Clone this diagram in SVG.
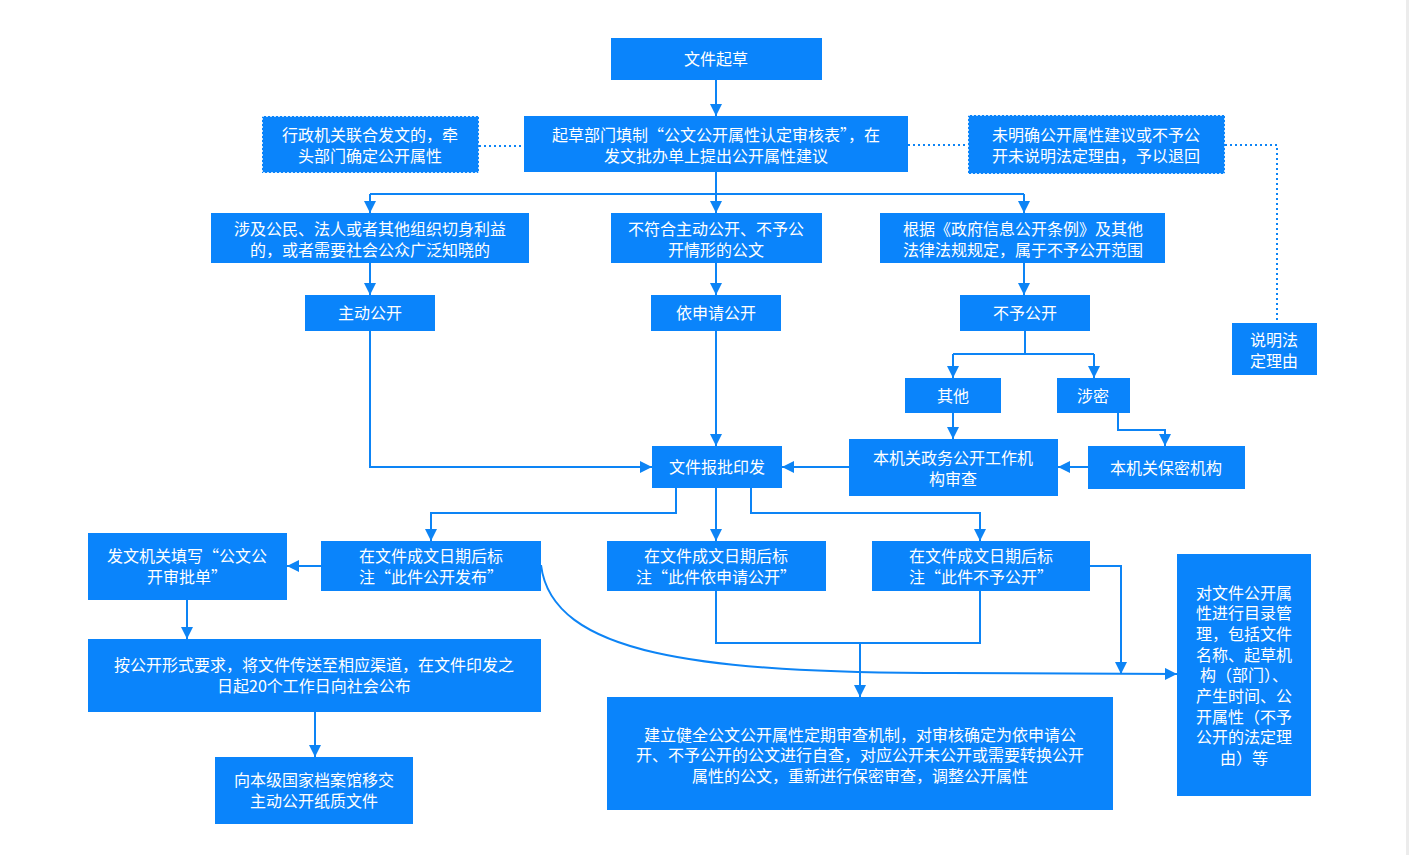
<svg xmlns="http://www.w3.org/2000/svg" width="1409" height="855" viewBox="0 0 1409 855">
<defs>
<marker id="ah" markerUnits="userSpaceOnUse" markerWidth="12" markerHeight="12" refX="12" refY="6" orient="auto"><path d="M0,0 L12,6 L0,12 z" fill="#0d84f5"/></marker>
<style>
.n{fill:#0a84fb}
.d{fill:#0a84fb;stroke:#ffffff;stroke-width:1.5;stroke-dasharray:2 2}
.t{font-family:"Noto Sans CJK SC","Noto Sans",sans-serif;font-size:16px;fill:#ffffff;text-anchor:middle}
.c{fill:none;stroke:#0d84f5;stroke-width:2}
.a{marker-end:url(#ah)}
.dot{fill:none;stroke:#0d84f5;stroke-width:2;stroke-dasharray:2 3}
</style>
</defs>
<rect width="1409" height="855" fill="#ffffff"/>
<rect x="1406" y="0" width="3" height="855" fill="#ececec"/>

<g id="connectors">
<path class="c a" d="M716,80 V116"/>
<path class="c" d="M716,172 V194 M370,194 H1024"/>
<path class="c a" d="M370,194 V213"/>
<path class="c a" d="M716,194 V213"/>
<path class="c a" d="M1024,194 V213"/>
<path class="c a" d="M370,263 V295"/>
<path class="c a" d="M716,263 V295"/>
<path class="c a" d="M1024,263 V295"/>
<path class="c" d="M1025,331 V354 M953,354 H1094"/>
<path class="c a" d="M953,354 V378"/>
<path class="c a" d="M1094,354 V378"/>
<path class="c a" d="M953,413 V439"/>
<path class="c a" d="M1118,413 V430 H1165 V446"/>
<path class="c a" d="M1088,467 H1058"/>
<path class="c a" d="M849,467 H782"/>
<path class="c a" d="M370,331 V467 H652"/>
<path class="c a" d="M716,331 V446"/>
<path class="c a" d="M676,488 V513 H431 V541"/>
<path class="c a" d="M716,488 V541"/>
<path class="c a" d="M751,488 V513 H980 V541"/>
<path class="c a" d="M321,566 H287"/>
<path class="c a" d="M187,600 V639"/>
<path class="c a" d="M315,712 V757"/>
<path class="c" d="M716,591 V643 H980 V591"/>
<path class="c a" d="M860,643 V697"/>
<path class="c a" d="M541,565 C552,655 700,673 950,673 L1177,674"/>
<path class="c a" d="M1090,566 H1121 V674"/>
<path class="dot" d="M479,146 H524"/>
<path class="dot" d="M908,145 H968"/>
<path class="dot" d="M1225,145 H1277 V323"/>
</g>

<g id="n1"><rect class="n" x="611" y="38" width="211" height="42"/><text class="t" x="716" y="65">文件起草</text></g>
<g id="n2"><rect class="n" x="524" y="116" width="384" height="56"/><text class="t" x="716" y="141">起草部门填制“公文公开属性认定审核表”，在</text><text class="t" x="716" y="162">发文批办单上提出公开属性建议</text></g>
<g id="n3"><rect class="d" x="262" y="116" width="217" height="57"/><text class="t" x="370" y="141">行政机关联合发文的，牵</text><text class="t" x="370" y="162">头部门确定公开属性</text></g>
<g id="n4"><rect class="d" x="968" y="115" width="257" height="59"/><text class="t" x="1096" y="141">未明确公开属性建议或不予公</text><text class="t" x="1096" y="162">开未说明法定理由，予以退回</text></g>
<g id="n5"><rect class="n" x="1232" y="323" width="85" height="52"/><text class="t" x="1274" y="346">说明法</text><text class="t" x="1274" y="367">定理由</text></g>
<g id="n6"><rect class="n" x="211" y="213" width="318" height="50"/><text class="t" x="370" y="235">涉及公民、法人或者其他组织切身利益</text><text class="t" x="370" y="256">的，或者需要社会公众广泛知晓的</text></g>
<g id="n7"><rect class="n" x="611" y="213" width="211" height="50"/><text class="t" x="716" y="235">不符合主动公开、不予公</text><text class="t" x="716" y="256">开情形的公文</text></g>
<g id="n8"><rect class="n" x="880" y="213" width="285" height="50"/><text class="t" x="1023" y="235">根据《政府信息公开条例》及其他</text><text class="t" x="1023" y="256">法律法规规定，属于不予公开范围</text></g>
<g id="n9"><rect class="n" x="305" y="295" width="130" height="36"/><text class="t" x="370" y="319">主动公开</text></g>
<g id="n10"><rect class="n" x="651" y="295" width="130" height="36"/><text class="t" x="716" y="319">依申请公开</text></g>
<g id="n11"><rect class="n" x="960" y="295" width="130" height="36"/><text class="t" x="1025" y="319">不予公开</text></g>
<g id="n12"><rect class="n" x="905" y="378" width="96" height="35"/><text class="t" x="953" y="402">其他</text></g>
<g id="n13"><rect class="n" x="1057" y="378" width="73" height="35"/><text class="t" x="1093" y="402">涉密</text></g>
<g id="n14"><rect class="n" x="849" y="439" width="209" height="57"/><text class="t" x="953" y="464">本机关政务公开工作机</text><text class="t" x="953" y="485">构审查</text></g>
<g id="n15"><rect class="n" x="1088" y="446" width="157" height="43"/><text class="t" x="1166" y="474">本机关保密机构</text></g>
<g id="n16"><rect class="n" x="652" y="446" width="130" height="42"/><text class="t" x="717" y="473">文件报批印发</text></g>
<g id="n17"><rect class="n" x="321" y="541" width="220" height="50"/><text class="t" x="431" y="562">在文件成文日期后标</text><text class="t" x="431" y="583">注“此件公开发布”</text></g>
<g id="n18"><rect class="n" x="607" y="541" width="219" height="50"/><text class="t" x="716" y="562">在文件成文日期后标</text><text class="t" x="716" y="583">注“此件依申请公开”</text></g>
<g id="n19"><rect class="n" x="872" y="541" width="218" height="50"/><text class="t" x="981" y="562">在文件成文日期后标</text><text class="t" x="981" y="583">注“此件不予公开”</text></g>
<g id="n20"><rect class="n" x="88" y="533" width="199" height="67"/><text class="t" x="187" y="562">发文机关填写“公文公</text><text class="t" x="187" y="583">开审批单”</text></g>
<g id="n21"><rect class="n" x="88" y="639" width="453" height="73"/><text class="t" x="314" y="671">按公开形式要求，将文件传送至相应渠道，在文件印发之</text><text class="t" x="314" y="692">日起20个工作日向社会公布</text></g>
<g id="n22"><rect class="n" x="215" y="757" width="198" height="67"/><text class="t" x="314" y="786">向本级国家档案馆移交</text><text class="t" x="314" y="807">主动公开纸质文件</text></g>
<g id="n23"><rect class="n" x="607" y="697" width="506" height="113"/><text class="t" x="860" y="741">建立健全公文公开属性定期审查机制，对审核确定为依申请公</text><text class="t" x="860" y="761">开、不予公开的公文进行自查，对应公开未公开或需要转换公开</text><text class="t" x="860" y="782">属性的公文，重新进行保密审查，调整公开属性</text></g>
<g id="n24"><rect class="n" x="1177" y="554" width="134" height="242"/>
<text class="t" x="1244" y="599">对文件公开属</text><text class="t" x="1244" y="619">性进行目录管</text><text class="t" x="1244" y="640">理，包括文件</text><text class="t" x="1244" y="661">名称、起草机</text><text class="t" x="1244" y="681">构（部门）、</text><text class="t" x="1244" y="702">产生时间、公</text><text class="t" x="1244" y="723">开属性（不予</text><text class="t" x="1244" y="743">公开的法定理</text><text class="t" x="1244" y="764">由）等</text></g>
</svg>
